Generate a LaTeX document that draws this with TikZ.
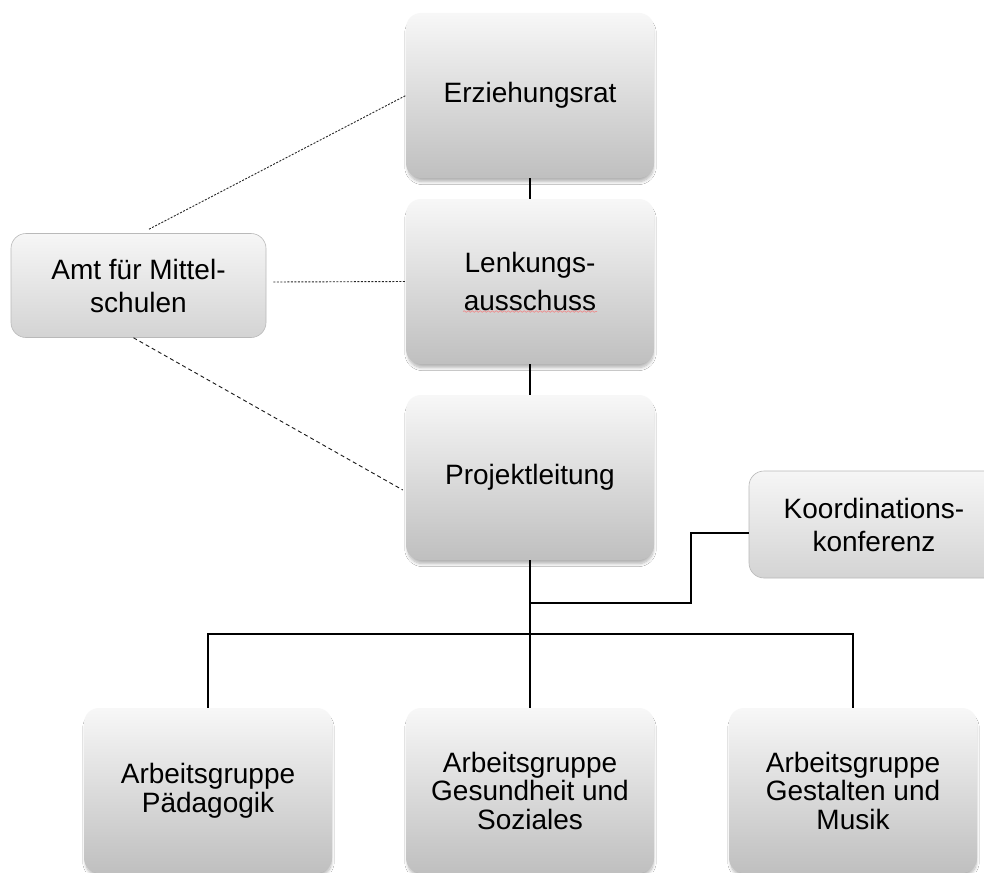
\documentclass[tikz,border=0pt]{standalone}
\usepackage{fontspec}
\setmainfont{Liberation Sans}
\usetikzlibrary{shadows.blur,calc,decorations.pathmorphing}
\begin{document}
\begin{tikzpicture}[x=1pt,y=-1pt,
  bigbox/.style={rounded corners=15pt, minimum width=248pt, minimum height=165pt,
    top color=gray!6, bottom color=gray!50, draw=none, align=center,
    blur shadow={shadow xshift=0.5pt, shadow yshift=-4.5pt, shadow blur steps=8, shadow opacity=30, shadow blur radius=3pt, shadow scale=0.99},
    font=\fontsize{28}{33}\selectfont},
  smallbox/.style={rounded corners=15pt, minimum width=255pt, minimum height=104pt,
    top color=gray!7, bottom color=gray!34, draw=gray!55, line width=0.6pt, align=center,
    font=\fontsize{28}{33}\selectfont},
  solidline/.style={line width=1.5pt, black},
  dotline/.style={line width=0.9pt, black!85, dash pattern=on 2pt off 1.5pt},
  dashline/.style={line width=0.9pt, black!90, dash pattern=on 4pt off 3pt}
]
\useasboundingbox (0,0) rectangle (984,872);
\fill[white] (0,0) rectangle (984,872);

\node[bigbox] (erz) at (530,95.5) {Erziehungsrat};
\node[bigbox, font=\fontsize{28}{38.5}\selectfont] (lenk) at (530,281.5) {Lenkungs-\\ausschuss};
\node[bigbox] (proj) at (530,477.5) {Projektleitung};
\node[smallbox] (amt) at (138.5,285.5) {Amt für Mittel-\\schulen};
\node[smallbox, minimum width=250pt, minimum height=107pt] (koord) at (874,524.5) {Koordinations-\\konferenz};
\node[bigbox, font=\fontsize{28}{28.5}\selectfont] (ag1) at (208,790.5) {Arbeitsgruppe\\Pädagogik};
\node[bigbox, font=\fontsize{28}{28.5}\selectfont] (ag2) at (530,790.5) {Arbeitsgruppe\\Gesundheit und\\Soziales};
\node[bigbox, font=\fontsize{28}{28.5}\selectfont] (ag3) at (853,790.5) {Arbeitsgruppe\\Gestalten und\\Musik};

% spell-check squiggle
\draw[red!60, opacity=0.6, line width=0.7pt, decorate, decoration={snake, amplitude=0.8pt, segment length=4pt}]
  ($(lenk.center)+(-67,30)$) -- ($(lenk.center)+(67,30)$);

% solid connectors
\draw[solidline] (erz.south) -- (lenk.north);
\draw[solidline] (lenk.south) -- (proj.north);
\draw[solidline] (proj.south) -- (ag2.north);
\coordinate (busL) at (208,634);
\coordinate (busR) at (853,634);
\draw[solidline] (ag1.north) -- (busL) -- (busR) -- (ag3.north);
\coordinate (kbend) at (691,603);
\draw[solidline] (koord.west |- 0,533) -- (691,533) -- (kbend) -- (kbend -| proj.south);

% dotted / dashed connectors
\draw[dotline] ($(amt.north)+(10.5,-4)$) -- (erz.west);
\draw[dotline] ($(amt.east)+(7,-3.5)$) -- (lenk.west);
\draw[dashline] ($(amt.south)+(-5,0)$) -- ($(proj.west)+(-3,12.5)$);
\end{tikzpicture}
\end{document}
